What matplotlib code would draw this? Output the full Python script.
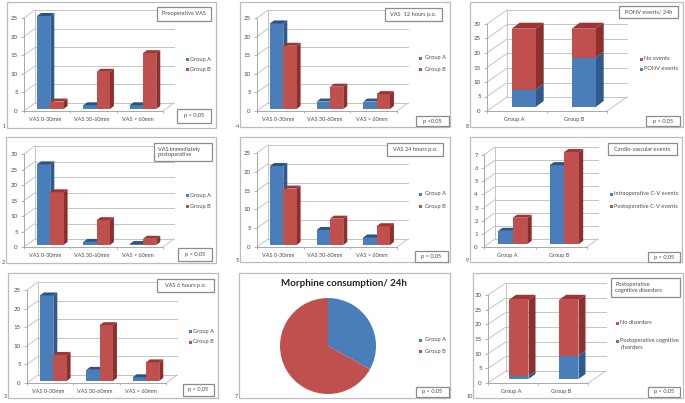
import matplotlib
matplotlib.use("Agg")
import matplotlib.pyplot as plt
from matplotlib.patches import Polygon, Rectangle

plt.rcParams['font.family'] = ['Lato', 'DejaVu Sans']
W, H = 685, 403
TXT = '#4a4a4a'
GRID = '#c4c4c4'
BORDER = '#bcbcbc'
BOXC = '#8c8c8c'
BLUE = ('#4a7ebb', '#2f5a8e', '#2a5483')
RED = ('#c0504d', '#8c2f2d', '#9c3633')

vas_cats = ['VAS 0-30mm', 'VAS 30-60mm', 'VAS > 60mm']
grp_cats = ['Group A', 'Group B']

pre_a, pre_b = [25, 1, 1], [2, 10, 15]
imm_a, imm_b = [26, 1, 0.3], [17, 8, 2]
h6_a, h6_b = [23, 3, 1], [7, 15, 5]
h12_a, h12_b = [23, 2, 2], [17, 6, 4]
h24_a, h24_b = [21, 4, 2], [15, 7, 5]
ponv_events, ponv_none = [6, 17], [21, 10]
cv_intra, cv_post = [1, 6], [2, 7]
cog_dis, cog_none = [1, 8], [26, 19]
morphine = [33, 67]


def rect_px(x0, y0, x1, y1, ec, lw, fc='white', z=5):
    fig.add_artist(Rectangle((x0 / W, 1 - y1 / H), (x1 - x0) / W, (y1 - y0) / H,
                             transform=fig.transFigure, fc=fc, ec=ec, lw=lw, zorder=z))


def text_px(x, y, s, size=4.1, ha='left', va='center', **kw):
    kw.setdefault('color', TXT)
    fig.text(x / W, 1 - y / H, s, fontsize=size, ha=ha, va=va, zorder=6, **kw)


def decor(box, num, title, tbox, ptext, pbox, legend, leg_x):
    rect_px(*box, BORDER, 0.9, fc='none', z=1)
    text_px(box[0] - 4 if len(num) == 1 else box[0] - 6, box[3] - 1, num, size=4.0)
    if title:
        rect_px(*tbox, BOXC, 0.9)
        if '\n' in title:
            text_px(tbox[0] + 4, (tbox[1] + tbox[3]) / 2, title, linespacing=1.2)
        else:
            text_px((tbox[0] + tbox[2]) / 2, (tbox[1] + tbox[3]) / 2, title, ha='center')
    rect_px(*pbox, BOXC, 0.9)
    text_px((pbox[0] + pbox[2]) / 2, (pbox[1] + pbox[3]) / 2, ptext, ha='center')
    for label, col, y in legend:
        rect_px(leg_x - 1.5, y - 1.5, leg_x + 1.5, y + 1.5, 'none', 0, fc=col[0])
        if '\n' in label:
            fig.text((leg_x + 3.5) / W, 1 - (y - 3) / H, label, fontsize=4.1, ha='left', va='top',
                     color=TXT, linespacing=1.5, zorder=6)
        else:
            text_px(leg_x + 3.5, y, label)


def bar3d(ax, x, w, lo, hi, col, dx, dy, top, z):
    ax.add_patch(Polygon([(x + w, lo), (x + w + dx, lo + dy), (x + w + dx, hi + dy), (x + w, hi)],
                         fc=col[1], ec='none', zorder=z))
    ax.add_patch(Rectangle((x, lo), w, hi - lo, fc=col[0], ec='none', zorder=z))
    if top:
        ax.add_patch(Polygon([(x, hi), (x + dx, hi + dy), (x + w + dx, hi + dy), (x + w, hi)],
                             fc=col[2], ec='none', zorder=z))


def chart(box, left, right, y0, ytop, vmax, step, cats, series, stacked,
          dd, bar_left, bar_w, bd, base):
    bx0, by0, bx1, by1 = box
    n = len(cats)
    sx = (right - left) / n
    sy = (y0 - ytop) / vmax
    ax = fig.add_axes([bx0 / W, 1 - by1 / H, (bx1 - bx0) / W, (by1 - by0) / H], zorder=2)
    ax.patch.set_alpha(0)
    ax.set_xlim((bx0 - left) / sx, (bx1 - left) / sx)
    ax.set_ylim((y0 - by1) / sy, (y0 - by0) / sy)
    for s in ('top', 'right'):
        ax.spines[s].set_visible(False)
    ax.spines['left'].set_position(('data', 0))
    ax.spines['bottom'].set_position(('data', 0))
    ax.spines['left'].set_bounds(0, vmax)
    ax.spines['bottom'].set_bounds(0, n)
    for s in ('left', 'bottom'):
        ax.spines[s].set_color('#a8a8a8')
        ax.spines[s].set_linewidth(0.7)
    ddx, ddy = dd[0] / sx, dd[1] / sy
    ticks = list(range(0, vmax + 1, step))
    ax.set_yticks(ticks)
    ax.set_yticklabels([str(t) for t in ticks])
    ax.set_xticks([i + 0.46 for i in range(n)])
    ax.set_xticklabels(cats)
    ax.set_xticks(range(n + 1), minor=True)
    ax.tick_params(axis='y', length=2, width=0.6, color='#a8a8a8', labelsize=4.4, labelcolor=TXT, pad=2.5)
    ax.tick_params(axis='x', which='major', length=0, labelsize=3.95, labelcolor=TXT, pad=4.5)
    ax.tick_params(axis='x', which='minor', length=1.5, width=0.6, color='#a8a8a8')
    for t in ticks:
        ax.plot([0, ddx], [t, t + ddy], color=GRID, lw=0.7, zorder=1)
        ax.plot([ddx, n + ddx], [t + ddy, t + ddy], color=GRID, lw=0.7, zorder=1)
    ax.plot([ddx, ddx], [ddy, vmax + ddy], color=GRID, lw=0.7, zorder=1)
    ax.plot([n, n + ddx], [0, ddy], color=GRID, lw=0.7, zorder=1)
    bdx, bdy = bd[0] / sx, bd[1] / sy
    b0 = base / sy
    w = bar_w / sx
    z = 3
    for i in range(n):
        x = i + bar_left / sx
        if stacked:
            lo = 0
            for k, (vals, col) in enumerate(series):
                bar3d(ax, x, w, b0 + lo, b0 + lo + vals[i], col, bdx, bdy, k == len(series) - 1, z)
                lo += vals[i]
                z += 1
        else:
            for k, (vals, col) in enumerate(series):
                bar3d(ax, x + k * w, w, b0, b0 + vals[i], col, bdx, bdy, True, z)
                z += 1


fig = plt.figure(figsize=(W / 100, H / 100), dpi=100, facecolor='white')

GA, GB = 'Group A', 'Group B'
vas = [
    dict(box=(7, 2, 216, 128), left=24, right=163, y0=111, ytop=18, vmax=25, a=pre_a, b=pre_b, num='1',
         title='Preoperative VAS', tbox=(157, 7, 211, 21), p='p < 0,05', pbox=(177, 109, 211, 123),
         lx=187, ly=(59, 69)),
    dict(box=(6, 137, 216, 263), left=24, right=163, y0=247, ytop=154, vmax=30, a=imm_a, b=imm_b, num='2',
         title='VAS immediately\npostoperative', tbox=(154, 143, 212, 161), p='p < 0,05', pbox=(178, 248, 212, 261),
         lx=187, ly=(195, 206)),
    dict(box=(8, 273, 218, 398), left=27, right=166, y0=383, ytop=290, vmax=25, a=h6_a, b=h6_b, num='3',
         title='VAS 6 hours p.o.', tbox=(157, 279, 214, 292), p='p < 0,05', pbox=(183, 384, 214, 396),
         lx=190, ly=(331, 342)),
    dict(box=(240, 2, 450, 127), left=257, right=397, y0=111, ytop=18, vmax=25, a=h12_a, b=h12_b, num='4',
         title='VAS  12 hours p.o.', tbox=(385, 8, 442, 21), p='p <0,05', pbox=(416, 116, 449, 126),
         lx=421, ly=(58, 69)),
    dict(box=(240, 137, 450, 262), left=257, right=397, y0=247, ytop=153, vmax=25, a=h24_a, b=h24_b, num='5',
         title='VAS 24 hours p.o.', tbox=(387, 143, 443, 156), p='p < 0,05', pbox=(415, 251, 448, 262),
         lx=421, ly=(194, 206)),
]
for c in vas:
    chart(c['box'], c['left'], c['right'], c['y0'], c['ytop'], c['vmax'], 5, vas_cats,
          [(c['a'], BLUE), (c['b'], RED)], False, (11, 8), 13, 13.3, (4, 3), 2)
    decor(c['box'], c['num'], c['title'], c['tbox'], c['p'], c['pbox'],
          [(GA, BLUE, c['ly'][0]), (GB, RED, c['ly'][1])], c['lx'])

# PONV events
box8 = (470, 2, 683, 127)
chart(box8, 487, 607, 111, 24, 30, 5, grp_cats, [(ponv_events, BLUE), (ponv_none, RED)], True,
      (20, 14), 24.7, 24, (8, 6), 4)
decor(box8, '8', 'PONV events/ 24h', (619, 6, 678, 18), 'p < 0,05', (646, 116, 680, 126),
      [('No events', RED, 59), ('PONV events', BLUE, 69)], 641)

# Cardio-vascular events
box9 = (470, 137, 682, 262)
chart(box9, 484, 587, 247, 155, 7, 1, grp_cats, [(cv_intra, BLUE), (cv_post, RED)], False,
      (11, 8), 14, 14.6, (4.5, 3), 3)
decor(box9, '9', 'Cardio-vascular events', (608, 143, 677, 155), 'p < 0,05', (648, 252, 680, 262),
      [('Intraoperative C-V events', BLUE, 194), ('Postoperative C-V events', RED, 206)], 611)

# Cognitive disorders
box10 = (473, 273, 683, 398)
chart(box10, 488, 588, 383, 295, 30, 5, grp_cats, [(cog_dis, BLUE), (cog_none, RED)], True,
      (18, 12), 21, 19.5, (7, 5), 4)
decor(box10, '10', 'Postoperative\ncognitive disorders', (611, 278, 680, 297), 'p < 0,05', (648, 387, 680, 397),
      [('No disorders', RED, 323), ('Postoperative cognitive\ndisorders', BLUE, 341)], 617)

# Morphine pie
box7 = (239, 273, 450, 398)
decor(box7, '7', None, None, 'p < 0,05', (416, 387, 449, 397),
      [(GA, BLUE, 340), (GB, RED, 351)], 421)
cx, cy, r = 328, 346, 48
axp = fig.add_axes([(cx - r) / W, 1 - (cy + r) / H, 2 * r / W, 2 * r / H], zorder=2)
axp.pie(morphine, colors=[BLUE[0], RED[0]], startangle=90, counterclock=False, radius=1)
axp.set_xlim(-1, 1)
axp.set_ylim(-1, 1)
text_px(344, 284, 'Morphine consumption/ 24h', size=7.0, ha='center', fontweight='bold', color='#222222')

fig.savefig('out.png', dpi=100, facecolor='white')
